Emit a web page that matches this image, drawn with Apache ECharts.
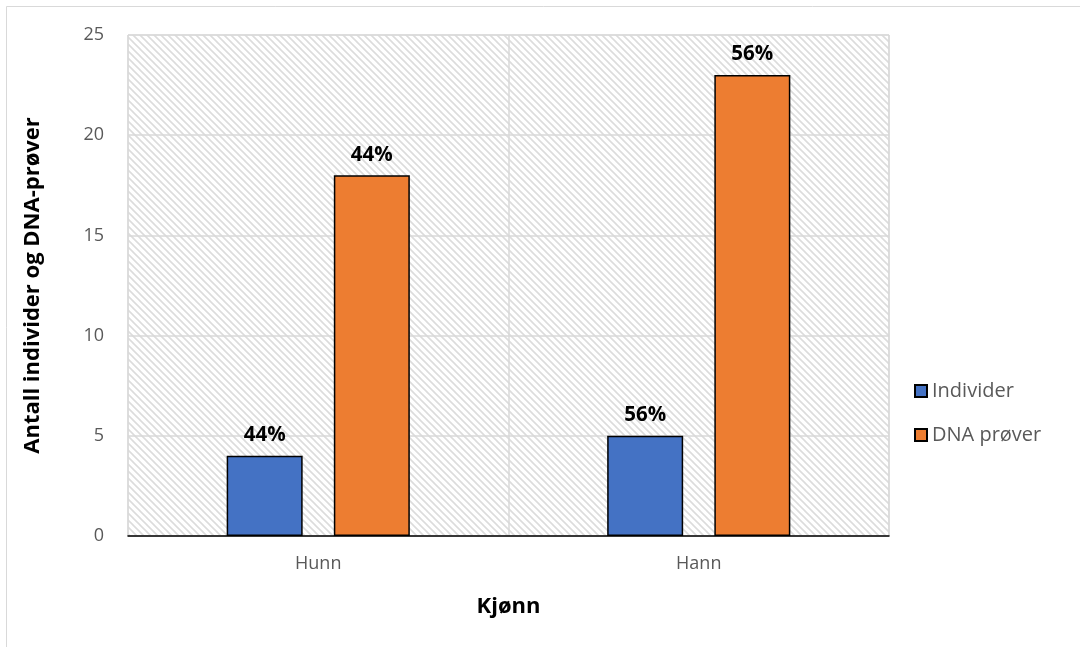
<!DOCTYPE html>
<html>
<head>
<meta charset="utf-8">
<script src="https://cdn.jsdelivr.net/npm/echarts@6/dist/echarts.min.js"></script>
<style>
  html, body { margin: 0; padding: 0; background: #fff; }
  #chart { width: 1080px; height: 647px; }
</style>
</head>
<body>
<div id="chart"></div>
<script>
// Sex categories and counts
const categories = ['Hunn', 'Hann'];
const individer = [4, 5];
const dnaProver = [18, 23];
const seriesNames = ['Individer', 'DNA prøver'];

// Share of each category within a series, shown as a percentage label
function pctFormatter(values) {
  const total = values.reduce((a, b) => a + b, 0);
  return p => Math.round(p.value / total * 100) + '%';
}

// Light downward-diagonal hatch for the plot area
function makeHatch() {
  const s = 7;
  const c = document.createElement('canvas');
  c.width = s; c.height = s;
  const g = c.getContext('2d');
  g.fillStyle = '#ffffff';
  g.fillRect(0, 0, s, s);
  g.strokeStyle = '#dcdcdc';
  g.lineWidth = 1.6;
  g.beginPath();
  g.moveTo(-1, -1); g.lineTo(s + 1, s + 1);
  g.moveTo(-1, s - 1); g.lineTo(1, s + 1);
  g.moveTo(s - 1, -1); g.lineTo(s + 1, 1);
  g.stroke();
  return c;
}

const FONT = '"Open Sans", "Noto Sans", sans-serif';
const chart = echarts.init(document.getElementById('chart'), null, { renderer: 'canvas' });

const labelStyle = {
  show: true,
  position: 'top',
  distance: 10,
  color: '#000',
  fontWeight: 'bold',
  fontSize: 20.5,
  fontFamily: FONT
};

chart.setOption({
  backgroundColor: '#fff',
  animation: false,
  graphic: [{
    type: 'rect',
    shape: { x: 6.5, y: 6.5, width: 1200, height: 800 },
    style: { fill: 'none', stroke: '#d9d9d9', lineWidth: 1 },
    silent: true
  }],
  grid: {
    left: 128, top: 35, width: 761, height: 501,
    show: true,
    backgroundColor: { image: makeHatch(), repeat: 'repeat' },
    borderColor: '#d9d9d9',
    borderWidth: 1
  },
  legend: {
    orient: 'vertical',
    left: 909,
    top: 376,
    itemGap: 24,
    itemWidth: 12,
    itemHeight: 12,
    icon: 'rect',
    textStyle: { color: '#595959', fontSize: 20, fontFamily: FONT },
    data: seriesNames
  },
  xAxis: {
    type: 'category',
    data: categories,
    name: 'Kjønn',
    nameLocation: 'middle',
    nameGap: 60,
    nameTextStyle: { color: '#000', fontWeight: 'bold', fontSize: 22, fontFamily: FONT },
    axisLine: { show: true, lineStyle: { color: '#000', width: 1.5 } },
    axisTick: { show: false },
    axisLabel: { color: '#595959', fontSize: 18, fontFamily: FONT, margin: 19 },
    splitLine: { show: true, lineStyle: { color: '#d9d9d9', width: 1.5 } }
  },
  yAxis: {
    type: 'value',
    min: 0,
    max: 25,
    interval: 5,
    name: 'Antall individer og DNA-prøver',
    nameLocation: 'middle',
    nameGap: 84,
    nameRotate: 90,
    nameTextStyle: { color: '#000', fontWeight: 'bold', fontSize: 22, fontFamily: FONT },
    axisLine: { show: false },
    axisTick: { show: false },
    axisLabel: { color: '#595959', fontSize: 18, fontFamily: FONT, margin: 24 },
    splitLine: { show: true, lineStyle: { color: '#d9d9d9', width: 1.5 } }
  },
  series: [
    {
      name: seriesNames[0],
      type: 'bar',
      data: individer,
      barWidth: 76,
      barGap: '41%',
      itemStyle: { color: '#4472c4', borderColor: '#000', borderWidth: 1.5 },
      label: Object.assign({}, labelStyle, { formatter: pctFormatter(individer) })
    },
    {
      name: seriesNames[1],
      type: 'bar',
      data: dnaProver,
      barWidth: 76,
      barGap: '41%',
      itemStyle: { color: '#ed7d31', borderColor: '#000', borderWidth: 1.5 },
      label: Object.assign({}, labelStyle, { formatter: pctFormatter(dnaProver) })
    }
  ]
});
</script>
</body>
</html>
